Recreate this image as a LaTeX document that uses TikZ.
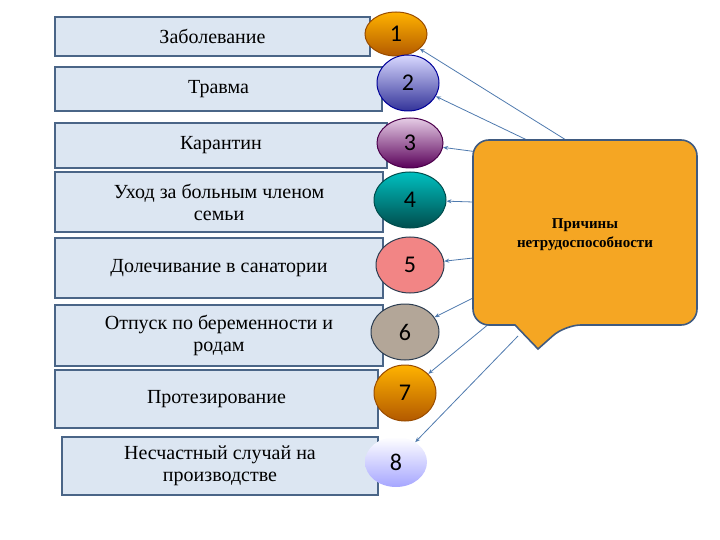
\documentclass[tikz,border=0pt]{standalone}
\usepackage{fontspec}
\setmainfont{Liberation Serif}
\newfontfamily\numfont{Carlito}
\usetikzlibrary{shapes.geometric,arrows.meta}
\definecolor{boxfill}{HTML}{DCE6F2}
\definecolor{boxline}{HTML}{4A6587}
\definecolor{linec}{HTML}{4F7AAE}
\definecolor{calfill}{HTML}{F5A623}
\definecolor{calline}{HTML}{3F5A80}
\tikzset{
  box/.style={draw=boxline,line width=1.6pt,fill=boxfill,inner sep=0pt,align=center,font=\fontsize{20}{22}\selectfont},
  num/.style={ellipse,draw=#1!60!black,line width=1pt,inner sep=0pt,font=\numfont\fontsize{24}{24}\selectfont},
  conn/.style={draw=linec,line width=0.8pt,-{Stealth[length=5pt,width=4pt]}}
}
\begin{document}
\begin{tikzpicture}[x=1pt,y=-1pt]
\useasboundingbox (0,0) rectangle (720,540);
\def\bx#1#2#3#4#5#6{\node[box,minimum width=#3-#2,minimum height=#5-#4] (#1) at ({(#2+#3)/2},{(#4+#5)/2}) {#6};}
\bx{b1}{55}{370}{17}{56}{Заболевание}
\bx{b2}{55}{382}{67}{111}{Травма}
\bx{b3}{55}{387}{123}{168}{Карантин}
\bx{b4}{55}{383}{172}{232}{Уход за больным членом\\семьи}
\bx{b5}{55}{383}{238}{298}{Долечивание в санатории}
\bx{b6}{55}{383}{305}{366}{Отпуск по беременности и\\родам}
\bx{b7}{55}{378}{370}{428}{Протезирование}
\bx{b8}{62}{378}{437}{495}{Несчастный случай на\\производстве}
\node[num=orange,top color=orange!60!yellow,bottom color=orange!70!black,minimum width=62,minimum height=44] (c1) at (396,34) {1};
\node[num=blue,top color=blue!15!white,bottom color=blue!50!black!80,minimum width=62,minimum height=56] (c2) at (408,83) {2};
\node[num=violet,top color=violet!20!white,bottom color=violet!70!black,minimum width=66,minimum height=50] (c3) at (410,143) {3};
\node[num=teal,top color=teal!50!cyan,bottom color=teal!60!black,minimum width=72,minimum height=56] (c4) at (410,200) {4};
\node[num=boxline,fill=red!30!pink!90!gray,minimum width=68,minimum height=56] (c5) at (410,265) {5};
\node[num=boxline,fill=brown!30!gray!70!white,minimum width=68,minimum height=56] (c6) at (405,332) {6};
\node[num=orange,top color=orange!60!yellow,bottom color=orange!70!black,minimum width=62,minimum height=56] (c7) at (405,393) {7};
\node[ellipse,inner sep=0pt,top color=white,bottom color=blue!35!white,font=\numfont\fontsize{24}{24}\selectfont,minimum width=62,minimum height=50] (c8) at (396,462) {8};
\coordinate (p1) at (566,140); \coordinate (p2) at (527,140);
\coordinate (p3) at (478,152); \coordinate (p4) at (473,202);
\coordinate (p5) at (473,258); \coordinate (p6) at (473,298);
\coordinate (p7) at (490,323); \coordinate (p8) at (518,336);
\foreach \i in {1,...,8} {\draw[conn] (p\i) -- (c\i);}
\draw[draw=calline,line width=1.6pt,fill=calfill,rounded corners=16pt]
  (473,140) -- (697,140) -- (697,325) -- (565,325) [sharp corners] -- (538,349) -- (515,325) [rounded corners=16pt] -- (473,325) -- cycle;
\node[align=center,font=\bfseries\fontsize{15}{19}\selectfont] (cal) at (585,235) {Причины\\нетрудоспособности};
\end{tikzpicture}
\end{document}
